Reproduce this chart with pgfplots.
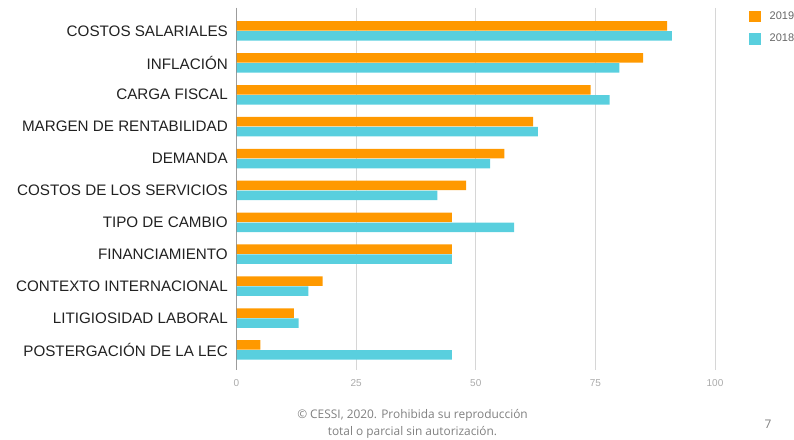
\documentclass[border=0pt]{standalone}
\usepackage{pgfplots}
\pgfplotsset{compat=1.18}
\usepackage{fontspec}
\setmainfont{Liberation Sans}
\newfontfamily\footfont{Open Sans}
\definecolor{cOrange}{RGB}{255,153,0}
\definecolor{cCyan}{RGB}{89,207,222}
\definecolor{cGrid}{RGB}{214,214,214}
\definecolor{cTick}{RGB}{170,170,170}
\definecolor{cLabel}{RGB}{33,33,33}
\definecolor{cFoot}{RGB}{128,128,128}
\definecolor{cLeg}{RGB}{102,102,102}
\begin{document}
\begin{tikzpicture}[x=1pt,y=1pt]
\path[use as bounding box] (0,0) rectangle (794,439);
\begin{axis}[
  at={(236.5pt,69pt)}, anchor=south west,
  scale only axis, width=478.5pt, height=362pt,
  xbar, bar width=9.5pt,
  xmin=0, xmax=100, ymin=-0.72, ymax=10.63, y dir=reverse,
  ytick={0,...,10},
  yticklabels={COSTOS SALARIALES, INFLACIÓN, CARGA FISCAL, MARGEN DE RENTABILIDAD, DEMANDA, COSTOS DE LOS SERVICIOS, TIPO DE CAMBIO, FINANCIAMIENTO, CONTEXTO INTERNACIONAL, LITIGIOSIDAD LABORAL, POSTERGACIÓN DE LA LEC},
  yticklabel style={font=\fontsize{15.2}{18}\selectfont, text=cLabel, anchor=east, inner sep=0pt, xshift=-8.5pt},
  xtick={0,25,50,75,100},
  xticklabel style={font=\fontsize{10}{12}\selectfont, text=cTick, anchor=center, yshift=-12.7pt, inner sep=0pt},
  /pgf/number format/assume math mode=true,
  major tick length=0pt,
  axis line style={draw=none},
  xmajorgrids, grid style={cGrid, line width=0.8pt},
  legend style={at={(1.071,0.995)}, anchor=north west, draw=none, fill=none,
    font=\fontsize{11}{13}\selectfont, text=cLeg, row sep=9pt, inner sep=0pt,
    /tikz/every odd column/.append style={column sep=7pt}},
  legend cell align=left,
  legend image code/.code={\fill[#1,draw=none] (0pt,-5.8pt) rectangle (11.5pt,5.8pt);},
]
\addplot[fill=cOrange, draw=none, bar shift=5pt] coordinates {
  (90,0) (85,1) (74,2) (62,3) (56,4) (48,5) (45,6) (45,7) (18,8) (12,9) (5,10)};
\addplot[fill=cCyan, draw=none, bar shift=-5pt] coordinates {
  (91,0) (80,1) (78,2) (63,3) (53,4) (42,5) (58,6) (45,7) (15,8) (13,9) (45,10)};
\legend{2019,2018}
\draw[black!80, line width=1pt] (axis cs:0,-0.72) -- (axis cs:0,10.63);
\end{axis}
\node[font=\footfont\fontsize{11.9}{17}\selectfont, text=cFoot, align=center] at (412.5,15.5) {© CESSI, 2020. Prohibida su reproducción\\total o parcial sin autorización.};
\node[font=\footfont\fontsize{11.9}{13}\selectfont, text=cFoot] at (768,15) {7};
\end{tikzpicture}
\end{document}
